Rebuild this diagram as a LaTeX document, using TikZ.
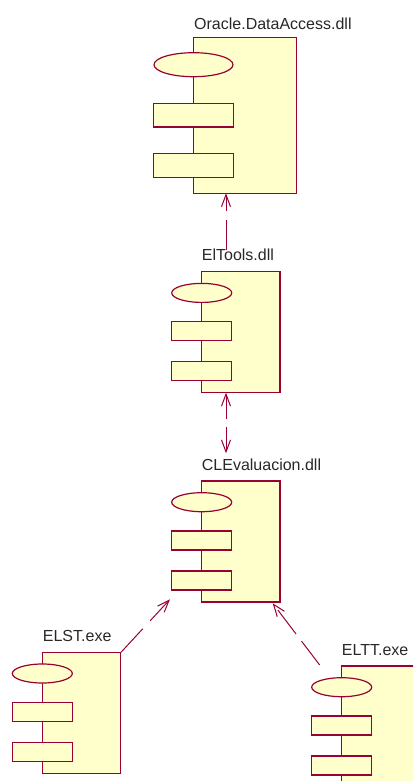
\documentclass[tikz,border=0pt]{standalone}
\usepackage{fontspec}
\setmainfont{Liberation Sans}
\usetikzlibrary{arrows.meta,shapes.geometric}
\definecolor{lineC}{RGB}{153,0,51}
\definecolor{fillC}{RGB}{255,255,204}
\definecolor{textC}{RGB}{40,40,40}
\newcommand\smallcomp[3]{%
  \node[part, minimum width=78.3bp, minimum height=121bp] (#1) at (#2,#3) {};
  \path (#1.north west) ++(0,21.2) node[part, ellipse, anchor=center, minimum width=60bp, minimum height=19bp] (#1e) {};
  \path (#1.north west) ++(0,59.5) node[part, anchor=center, minimum width=60bp, minimum height=19bp] (#1r) {};
  \path (#1.north west) ++(0,99.5) node[part, anchor=center, minimum width=60bp, minimum height=19bp] (#1s) {};
}
\begin{document}
\begin{tikzpicture}[x=1bp,y=-1bp,
  part/.style={draw=lineC, fill=fillC, line width=1.2bp, inner sep=0pt, outer sep=0pt, anchor=north west},
  lbl/.style={anchor=base west, inner sep=0pt, text=textC, font=\fontsize{16bp}{19bp}\selectfont},
  tipV/.tip={Straight Barb[length=12bp,width=9bp,line width=1bp]},
  dep/.style={draw=lineC, line width=1bp, dash pattern=on 30bp off 9bp, -tipV}]
\fill[white] (0,0) rectangle (413,781);
\useasboundingbox (0,0) rectangle (413,781);
\clip (0,0) rectangle (413,781);
% Oracle component
\node[part, minimum width=103.2bp, minimum height=155.6bp] (oracle) at (193.5,37.7) {};
\path (oracle.north west) ++(0,27) node[part, ellipse, anchor=center, minimum width=79bp, minimum height=24bp] (oraclee) {};
\path (oracle.north west) ++(0,77.5) node[part, anchor=center, minimum width=79.4bp, minimum height=23.7bp] (oracler) {};
\path (oracle.north west) ++(0,127.5) node[part, anchor=center, minimum width=79.4bp, minimum height=24bp] (oracles) {};
% other components
\smallcomp{eltools}{201.7}{271.7}
\smallcomp{clev}{201.7}{481}
\smallcomp{elst}{42.3}{652.3}
\smallcomp{eltt}{341.7}{666}
% labels
\node[lbl] (oracleL) at (194,29.3) {Oracle.DataAccess.dll};
\node[lbl] (eltoolsL) at (201.7,260) {ElTools.dll};
\node[lbl] (clevL) at (201.7,470) {CLEvaluacion.dll};
\node[lbl] (elstL) at (42.7,641.7) {ELST.exe};
\node[lbl] (elttL) at (341.7,655) {ELTT.exe};
% connector end points
\coordinate (t1) at (226,250);
\coordinate (h1) at (226,193.3);
\coordinate (t2) at (226,392.7);
\coordinate (h2) at (226,453.3);
\coordinate (t3) at (121,652.3);
\coordinate (h3) at (170,599.3);
\coordinate (t4) at (319.7,665);
\coordinate (h4) at (272.7,603.3);
% connectors
\draw[dep] (t1) -- (h1);
\draw[dep, tipV-tipV, dash pattern=on 24bp off 8bp on 60bp] (t2) -- (h2);
\draw[dep, dash pattern=on 32bp off 11bp] (t3) -- (h3);
\draw[dep, dash pattern=on 30bp off 9bp] (t4) -- (h4);
\end{tikzpicture}
\end{document}
